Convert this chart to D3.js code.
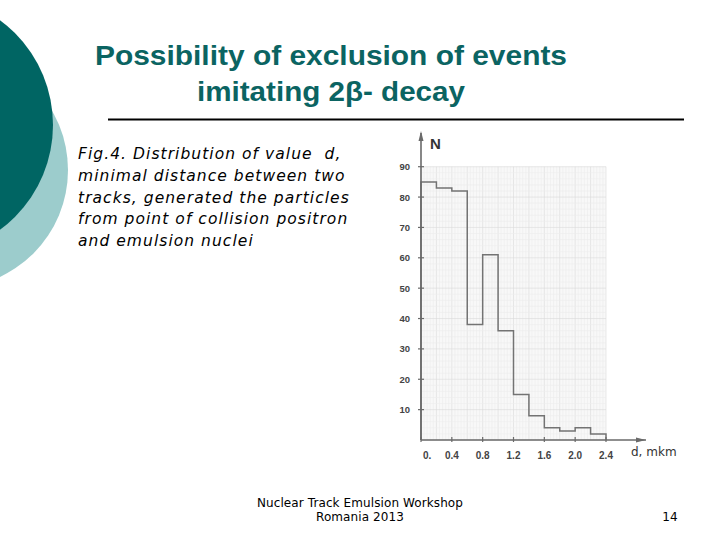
<!DOCTYPE html>
<html lang="en">
<head>
<meta charset="UTF-8">
<title>Possibility of exclusion of events imitating 2β- decay</title>
<script src="https://d3js.org/d3.v7.min.js"></script>
<style>
  body { margin: 0; background: #fff; }
  svg { display: block; }
</style>
</head>
<body>
<svg id="slide" width="720" height="540"></svg>
<script>
// histogram bins (left edges, mkm) and counts
const binStarts = [0, 0.2, 0.4, 0.6, 0.8, 1.0, 1.2, 1.4, 1.6, 1.8, 2.0, 2.2];
const binWidth = 0.2;
const counts = [85, 83, 82, 38, 61, 36, 15, 8, 4, 3, 4, 2];
const xTicks = [0, 0.4, 0.8, 1.2, 1.6, 2.0, 2.4];
const xTickLabels = ["0.", "0.4", "0.8", "1.2", "1.6", "2.0", "2.4"];
const yTicks = [10, 20, 30, 40, 50, 60, 70, 80, 90];

const titleLines = ["Possibility of exclusion of events", "imitating 2\u03b2- decay"];
const captionLines = [
  "Fig.4. Distribution of value  d,",
  "minimal distance between two",
  "tracks, generated the particles",
  "from point of collision positron",
  "and emulsion nuclei"
];
const footerLines = ["Nuclear Track Emulsion Workshop", "Romania 2013"];
const pageNumber = "14";

const svg = d3.select("#slide");

// slide decoration
svg.append("circle").attr("cx", -50).attr("cy", 170).attr("r", 118).attr("fill", "#9ccccc");
svg.append("circle").attr("cx", -77).attr("cy", 125).attr("r", 130).attr("fill", "#006563");

// title
const titleWidths = [472, 268];
svg.selectAll(".title")
  .data(titleLines)
  .enter().append("text")
  .attr("class", "title")
  .attr("x", 331)
  .attr("y", (d, i) => 65 + i * 36)
  .attr("text-anchor", "middle")
  .attr("font-family", "Liberation Sans, Arial, sans-serif")
  .attr("font-weight", "bold")
  .attr("font-size", 28)
  .attr("textLength", (d, i) => titleWidths[i])
  .attr("lengthAdjust", "spacingAndGlyphs")
  .attr("fill", "#0b6462")
  .text(d => d);

svg.append("line")
  .attr("x1", 108).attr("x2", 684)
  .attr("y1", 119.5).attr("y2", 119.5)
  .attr("stroke", "#000").attr("stroke-width", 2);

// caption
svg.selectAll(".caption")
  .data(captionLines)
  .enter().append("text")
  .attr("class", "caption")
  .attr("x", 78)
  .attr("y", (d, i) => 159 + i * 21.8)
  .attr("font-family", "DejaVu Sans, Verdana, sans-serif")
  .attr("font-style", "italic")
  .attr("font-size", 15.5)
  .attr("letter-spacing", 1.05)
  .attr("fill", "#000")
  .style("white-space", "pre")
  .text(d => d);

// footer
svg.selectAll(".footer")
  .data(footerLines)
  .enter().append("text")
  .attr("class", "footer")
  .attr("x", 360)
  .attr("y", (d, i) => 507 + i * 14)
  .attr("text-anchor", "middle")
  .attr("font-family", "DejaVu Sans, Tahoma, sans-serif")
  .attr("font-size", 12)
  .attr("letter-spacing", 0.1)
  .attr("fill", "#000")
  .text(d => d);

svg.append("text")
  .attr("x", 670).attr("y", 521)
  .attr("text-anchor", "middle")
  .attr("font-family", "DejaVu Sans, Tahoma, sans-serif")
  .attr("font-size", 12)
  .text(pageNumber);

// chart
const x = d3.scaleLinear().domain([0, 2.4]).range([421, 606]);
const y = d3.scaleLinear().domain([0, 90]).range([440, 166.7]);

const chart = svg.append("g");

// graph paper background
chart.append("rect")
  .attr("x", x(0)).attr("y", y(90))
  .attr("width", x(2.4) - x(0)).attr("height", y(0) - y(90))
  .attr("fill", "#f8f8f8");

const minorX = d3.range(0, 2.4001, 0.04);
const minorY = d3.range(0, 90.001, 2);
chart.selectAll(".gx")
  .data(minorX)
  .enter().append("line")
  .attr("x1", d => x(d)).attr("x2", d => x(d))
  .attr("y1", y(90)).attr("y2", y(0))
  .attr("stroke", (d, i) => i % 5 === 0 ? "#dadada" : "#ededed")
  .attr("stroke-width", 0.6);
chart.selectAll(".gy")
  .data(minorY)
  .enter().append("line")
  .attr("y1", d => y(d)).attr("y2", d => y(d))
  .attr("x1", x(0)).attr("x2", x(2.4))
  .attr("stroke", (d, i) => i % 5 === 0 ? "#dadada" : "#ededed")
  .attr("stroke-width", 0.6);

// histogram outline
const pts = [[0, 0]];
binStarts.forEach((b, i) => {
  pts.push([b, counts[i]]);
  pts.push([b + binWidth, counts[i]]);
});
pts.push([binStarts[binStarts.length - 1] + binWidth, 0]);

chart.append("path")
  .attr("d", d3.line().x(d => x(d[0])).y(d => y(d[1]))(pts))
  .attr("fill", "none")
  .attr("stroke", "#737373")
  .attr("stroke-width", 1.5);

// axes
const axisColor = "#6a6a6a";
chart.append("line")
  .attr("x1", x(0)).attr("x2", x(0))
  .attr("y1", y(0)).attr("y2", 133)
  .attr("stroke", axisColor).attr("stroke-width", 1.6);
chart.append("path")
  .attr("d", `M${x(0) - 2.5},${141} L${x(0)},${131} L${x(0) + 2.5},${141} Z`)
  .attr("fill", axisColor);
chart.append("line")
  .attr("x1", x(0)).attr("x2", 646)
  .attr("y1", y(0)).attr("y2", y(0))
  .attr("stroke", axisColor).attr("stroke-width", 1.6);
chart.append("path")
  .attr("d", `M${636},${y(0) - 2.5} L${646},${y(0)} L${636},${y(0) + 2.5} Z`)
  .attr("fill", axisColor);

chart.selectAll(".yt")
  .data(yTicks)
  .enter().append("line")
  .attr("x1", x(0) - 3).attr("x2", x(0) + 3)
  .attr("y1", d => y(d)).attr("y2", d => y(d))
  .attr("stroke", axisColor).attr("stroke-width", 1.2);
chart.selectAll(".yl")
  .data(yTicks)
  .enter().append("text")
  .attr("x", 410)
  .attr("y", d => y(d) + 3.5)
  .attr("text-anchor", "end")
  .attr("font-family", "Liberation Sans Narrow, Liberation Sans, Arial, sans-serif")
  .attr("font-weight", "bold")
  .attr("font-size", 9.5)
  .attr("fill", "#444")
  .text(d => d);

chart.selectAll(".xt")
  .data(xTicks)
  .enter().append("line")
  .attr("x1", d => x(d)).attr("x2", d => x(d))
  .attr("y1", y(0) - 3).attr("y2", y(0) + 2)
  .attr("stroke", axisColor).attr("stroke-width", 1.2);
chart.selectAll(".xl")
  .data(xTicks)
  .enter().append("text")
  .attr("x", (d, i) => i === 0 ? x(d) + 2 : x(d))
  .attr("y", 459)
  .attr("text-anchor", (d, i) => i === 0 ? "start" : "middle")
  .attr("font-family", "Liberation Sans Narrow, Liberation Sans, Arial, sans-serif")
  .attr("font-weight", "bold")
  .attr("font-size", 10)
  .attr("fill", "#444")
  .text((d, i) => xTickLabels[i]);

chart.append("text")
  .attr("x", 430).attr("y", 149)
  .attr("font-family", "Liberation Sans, Arial, sans-serif")
  .attr("font-weight", "bold")
  .attr("font-size", 15)
  .attr("fill", "#333")
  .text("N");

chart.append("text")
  .attr("x", 631).attr("y", 456)
  .attr("font-family", "DejaVu Sans, Verdana, sans-serif")
  .attr("font-size", 12)
  .attr("fill", "#333")
  .text("d, mkm");
</script>
</body>
</html>
